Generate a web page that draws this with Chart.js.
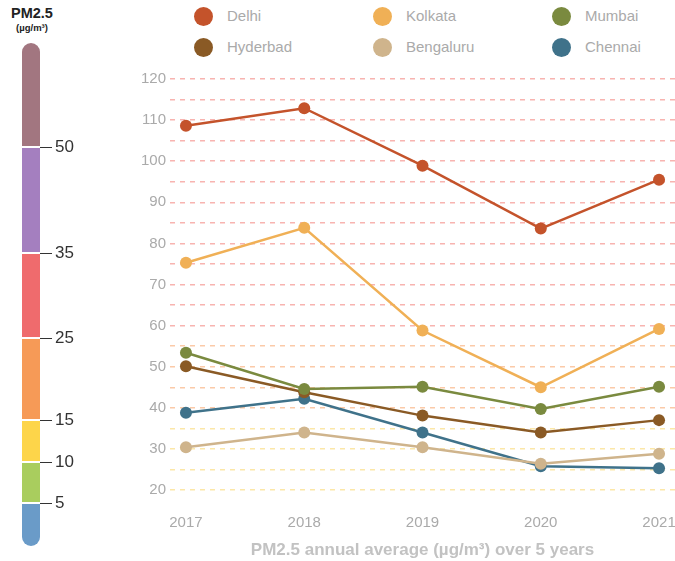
<!DOCTYPE html>
<html>
<head>
<meta charset="utf-8">
<script src="https://cdn.jsdelivr.net/npm/chart.js@4.4.1/dist/chart.umd.min.js"></script>
<style>
  html, body { margin: 0; padding: 0; background: #fff; }
  body { width: 675px; height: 561px; position: relative; overflow: hidden; font-family: "Liberation Sans", Arial, sans-serif; }
  #chart { position: absolute; left: 0; top: 0; }
  #scaleTitle { position: absolute; left: 1px; width: 62px; top: 5px; text-align: center; color: #222; font-weight: bold; }
  #scaleTitle .big { font-size: 14.5px; line-height: 17px; }
  #scaleTitle .small { font-size: 9.5px; line-height: 11px; }
  #bar { position: absolute; left: 22px; top: 43px; width: 18px; height: 503px; border-radius: 9px; overflow: hidden; background: #fff; }
  .seg { position: absolute; left: 0; width: 18px; }
  .tick { position: absolute; left: 40px; width: 12px; height: 1.5px; background: #333; }
  .tlab { position: absolute; left: 55px; font-size: 17px; color: #333; line-height: 20px; }
  .leg { position: absolute; font-size: 15px; color: #aaa; line-height: 20px; }
  .dot { position: absolute; width: 19px; height: 19px; border-radius: 50%; }
</style>
</head>
<body>
<div id="scaleTitle"><div class="big">PM2.5</div><div class="small">(µg/m³)</div></div>
<div id="bar"></div>
<div id="legend"></div>
<canvas id="chart" width="681" height="561"></canvas>
<script>
// annual PM2.5 averages per city
var years = [2017, 2018, 2019, 2020, 2021];
var cities = ['Delhi', 'Kolkata', 'Mumbai', 'Hyderbad', 'Bengaluru', 'Chennai'];
var delhi = [108.6, 112.9, 98.9, 83.6, 95.5];
var kolkata = [75.3, 83.8, 58.8, 45.0, 59.2];
var mumbai = [53.4, 44.6, 45.1, 39.7, 45.1];
var hyderbad = [50.1, 43.8, 38.1, 34.0, 37.0];
var bengaluru = [30.4, 34.0, 30.4, 26.4, 28.8];
var chennai = [38.8, 42.2, 34.0, 25.8, 25.3];
var yTicks = [20, 30, 40, 50, 60, 70, 80, 90, 100, 110, 120];

// colour scale on the left
var bandLevels = [50, 35, 25, 15, 10, 5];
var bandColors = ['#a27680', '#a47fbf', '#ef6b6d', '#f69a57', '#fdd54a', '#a9cd5e', '#6a9bc8'];

var cityColors = ['#c4532b', '#f0b056', '#7a8a3f', '#8a5a25', '#cfb48c', '#3f728a'];
var series = [delhi, kolkata, mumbai, hyderbad, bengaluru, chennai];

// build the colour bar (page y of each band edge)
var edges = [43, 147, 253, 338, 420, 462, 503, 546];
var bar = document.getElementById('bar');
for (var i = 0; i < bandColors.length; i++) {
  var seg = document.createElement('div');
  seg.className = 'seg';
  var segTop = edges[i] - 43 + (i > 0 ? 1 : 0);
  var segBottom = edges[i + 1] - 43 - (i < bandColors.length - 1 ? 1 : 0);
  seg.style.top = segTop + 'px';
  seg.style.height = (segBottom - segTop) + 'px';
  seg.style.background = bandColors[i];
  bar.appendChild(seg);
}
for (var j = 0; j < bandLevels.length; j++) {
  var tk = document.createElement('div');
  tk.className = 'tick';
  tk.style.top = (edges[j + 1] - 0.5) + 'px';
  document.body.appendChild(tk);
  var lb = document.createElement('div');
  lb.className = 'tlab';
  lb.style.top = (edges[j + 1] - 10) + 'px';
  lb.textContent = bandLevels[j];
  document.body.appendChild(lb);
}

// legend: two rows of three
var legend = document.getElementById('legend');
cities.forEach(function (name, k) {
  var col = k % 3, row = Math.floor(k / 3);
  var cx = 203 + col * 179, cy = 16 + row * 31;
  var d = document.createElement('div');
  d.className = 'dot';
  d.style.left = (cx - 9.5) + 'px';
  d.style.top = (cy - 9.5) + 'px';
  d.style.background = cityColors[k];
  legend.appendChild(d);
  var tx = document.createElement('div');
  tx.className = 'leg';
  tx.style.left = (cx + 24) + 'px';
  tx.style.top = (cy - 10) + 'px';
  tx.textContent = name;
  legend.appendChild(tx);
});

function gridColor(v) {
  if (v >= 60) return '#f8b4b0';
  if (v >= 40) return '#fbcaa8';
  return '#fce7a8';
}

var datasets = cities.map(function (name, k) {
  return {
    label: name,
    data: years.map(function (y, n) { return { x: y, y: series[k][n] }; }),
    borderColor: cityColors[k],
    backgroundColor: cityColors[k],
    borderWidth: 2.5,
    pointRadius: 6,
    pointHoverRadius: 6,
    pointBorderWidth: 0,
    tension: 0
  };
});

var chart = new Chart(document.getElementById('chart'), {
  type: 'line',
  data: { datasets: datasets },
  options: {
    responsive: false,
    animation: false,
    layout: { padding: { top: 79, right: 0, bottom: 0, left: 0 } },
    plugins: { legend: { display: false }, tooltip: { enabled: false } },
    scales: {
      x: {
        type: 'linear',
        min: 2016.865,
        max: 2021.135,
        grid: { display: false },
        border: { display: false },
        afterFit: function (scale) {
          scale.height = 71;
          scale.paddingLeft = 0;
          scale.paddingRight = 0;
        },
        ticks: {
          stepSize: 1,
          includeBounds: false,
          padding: 16,
          color: '#aaa',
          font: { family: 'Liberation Sans', size: 15 },
          maxRotation: 0,
          callback: function (v) { return String(v); }
        },
        title: {
          display: true,
          text: 'PM2.5 annual average (µg/m³) over 5 years',
          color: '#c2c2c2',
          font: { family: 'Liberation Sans', size: 17, weight: 'bold' },
          padding: { top: 14, bottom: 0 }
        }
      },
      y: {
        min: 20,
        max: 120,
        afterFit: function (scale) { scale.width = 170; },
        grid: {
          drawTicks: false,
          lineWidth: 1.5,
          color: function (ctx) { return gridColor(ctx.tick.value); }
        },
        border: { display: false, dash: [5, 5] },
        ticks: {
          stepSize: 5,
          autoSkip: false,
          padding: 4,
          color: '#aaa',
          font: { family: 'Liberation Sans', size: 15 },
          callback: function (v) { return yTicks.indexOf(v) >= 0 ? String(v) : ''; }
        }
      }
    }
  }
});
</script>
</body>
</html>
